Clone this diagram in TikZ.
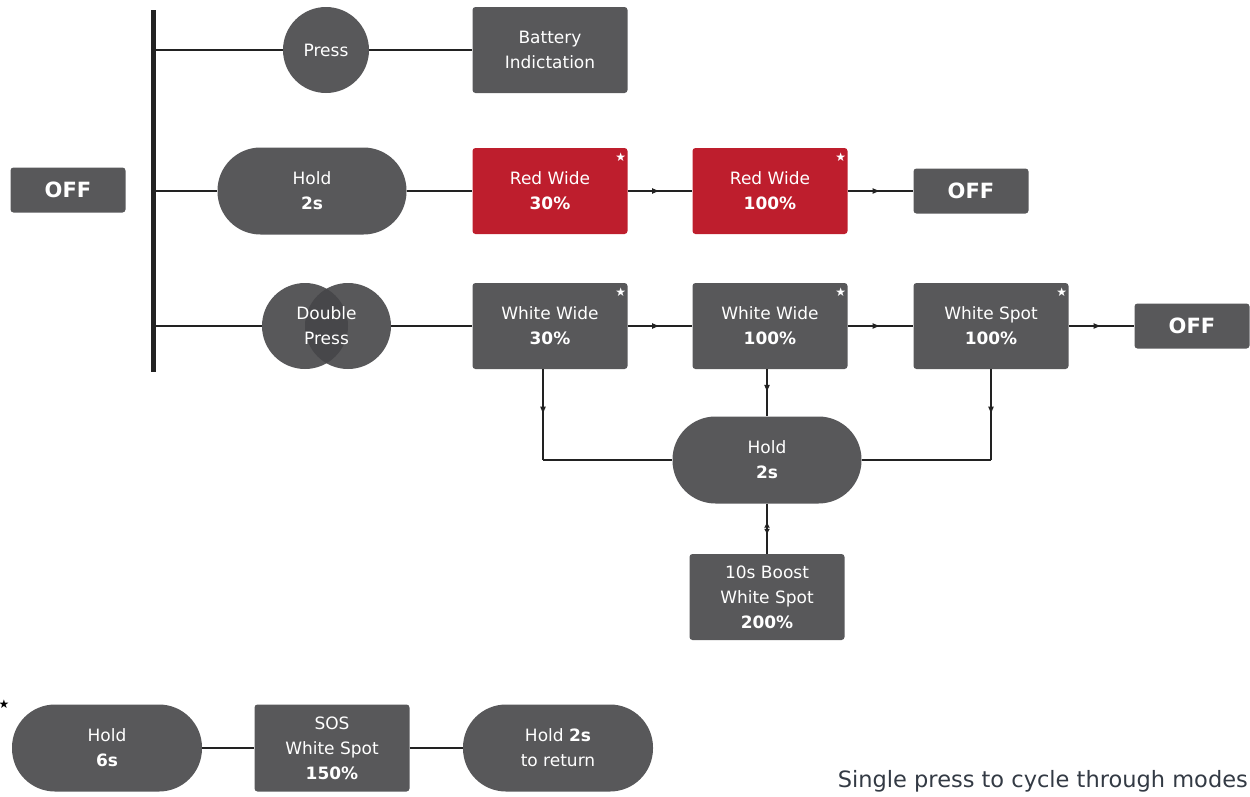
\documentclass[tikz,border=0pt]{standalone}
\usepackage{fontspec}
\setmainfont{DejaVu Sans}
\usetikzlibrary{arrows.meta,decorations.markings}
\definecolor{boxgray}{HTML}{58585A}
\definecolor{boxdark}{HTML}{47474A}
\definecolor{boxred}{HTML}{BE1E2D}
\definecolor{linec}{HTML}{222222}
\definecolor{notec}{HTML}{333A44}
\tikzset{
  base/.style={text=white,font=\fontsize{17}{25}\selectfont,align=center,inner sep=0pt},
  modebox/.style={base,fill=boxgray,rounded corners=3pt,minimum width=155pt,minimum height=86pt},
  redbox/.style={modebox,fill=boxred},
  offbox/.style={base,fill=boxgray,rounded corners=3pt,minimum width=115pt,minimum height=45pt,font=\fontsize{21}{24}\selectfont\bfseries},
  pill/.style={base,fill=boxgray,rounded corners=43pt,minimum width=189pt,minimum height=87pt},
  circ/.style={base,fill=boxgray,circle,minimum size=86pt},
  conn/.style={draw=linec,line width=1.2pt},
  midarrow/.style={conn,postaction={decorate},decoration={markings,mark=at position 0.5 with {\arrow{Latex[length=8pt,width=6pt]}}}},
  twoway/.style={conn,postaction={decorate},decoration={markings,
     mark=at position 0.36 with {\arrowreversed{Latex[length=6pt,width=6pt]}},
     mark=at position 0.62 with {\arrow{Latex[length=6pt,width=6pt]}}}},
  starmark/.style={text=white,font=\fontsize{12}{12}\selectfont,inner sep=0pt},
}
\begin{document}
\begin{tikzpicture}[x=1pt,y=-1pt]
\useasboundingbox (0,0) rectangle (1250,796);

% left OFF and bar
\node[offbox] (off0) at (68,190) {OFF};
\coordinate (bartop) at (153,10);
\coordinate (barbot) at (153,372);
\draw[line width=5pt,draw=linec] (bartop) -- (barbot);

% row 1
\node[circ] (press) at (326,50) {Press};
\node[modebox] (batt) at (550,50) {Battery\\Indictation};
\coordinate (b1) at (press.west -| bartop);
\draw[conn] (b1) -- (press.west);
\draw[conn] (press.east) -- (batt.west);

% row 2
\node[pill] (hold1) at (312,191) {Hold\\\textbf{2s}};
\node[redbox] (rw30) at (550,191) {Red Wide\\\textbf{30\%}};
\node[redbox] (rw100) at (770,191) {Red Wide\\\textbf{100\%}};
\node[offbox] (off1) at (971,191) {OFF};
\coordinate (b2) at (hold1.west -| bartop);
\draw[conn] (b2) -- (hold1.west);
\draw[conn] (hold1.east) -- (rw30.west);
\draw[midarrow] (rw30.east) -- (rw100.west);
\draw[midarrow] (rw100.east) -- (off1.west);

% row 3
\fill[boxgray] (305,326) circle (43);
\fill[boxgray] (348,326) circle (43);
\begin{scope}
  \clip (305,326) circle (43);
  \fill[boxdark] (348,326) circle (43);
\end{scope}
\node[base,minimum width=129pt,minimum height=86pt] (dp) at (326.5,326) {Double\\Press};
\node[modebox] (ww30) at (550,326) {White Wide\\\textbf{30\%}};
\node[modebox] (ww100) at (770,326) {White Wide\\\textbf{100\%}};
\node[modebox] (ws100) at (991,326) {White Spot\\\textbf{100\%}};
\node[offbox] (off2) at (1192,326) {OFF};
\coordinate (b3) at (dp.west -| bartop);
\draw[conn] (b3) -- (dp.west);
\draw[conn] (dp.east) -- (ww30.west);
\draw[midarrow] (ww30.east) -- (ww100.west);
\draw[midarrow] (ww100.east) -- (ws100.west);
\draw[midarrow] (ws100.east) -- (off2.west);

% stars
\node[starmark] at ([xshift=-7pt,yshift=-9pt]rw30.north east) {★};
\node[starmark] at ([xshift=-7pt,yshift=-9pt]rw100.north east) {★};
\node[starmark] at ([xshift=-7pt,yshift=-9pt]ww30.north east) {★};
\node[starmark] at ([xshift=-7pt,yshift=-9pt]ww100.north east) {★};
\node[starmark] at ([xshift=-7pt,yshift=-9pt]ws100.north east) {★};

% hold / boost
\node[pill] (hold2) at (767,460) {Hold\\\textbf{2s}};
\node[modebox] (boost) at (767,597) {10s Boost\\White Spot\\\textbf{200\%}};
\coordinate (c1) at (hold2.west -| 543,0);
\coordinate (c2) at (hold2.east -| ws100.south);
\draw[midarrow] (ww30.south -| c1) -- (c1);
\draw[conn] (c1) -- (hold2.west);
\draw[midarrow] (ww100.south -| hold2.north) -- (hold2.north);
\draw[midarrow] (ws100.south) -- (c2);
\draw[conn] (c2) -- (hold2.east);
\draw[twoway] (hold2.south) -- (boost.north);

% bottom row
\node[text=black,font=\fontsize{12}{12}\selectfont,inner sep=0pt] (star0) at (4,704) {★};
\node[pill,minimum width=190pt] (hold6) at (107,748) {Hold\\\textbf{6s}};
\node[modebox,minimum height=87pt] (sos) at (332,748) {SOS\\White Spot\\\textbf{150\%}};
\node[pill,minimum width=190pt] (hold3) at (558,748) {Hold \textbf{2s}\\to return};
\draw[conn] (hold6.east) -- (sos.west);
\draw[conn] (sos.east) -- (hold3.west);

\node[text=notec,font=\fontsize{22.5}{26}\selectfont,anchor=south east,inner sep=0pt] (note) at (1248,792) {Single press to cycle through modes};
\end{tikzpicture}
\end{document}
